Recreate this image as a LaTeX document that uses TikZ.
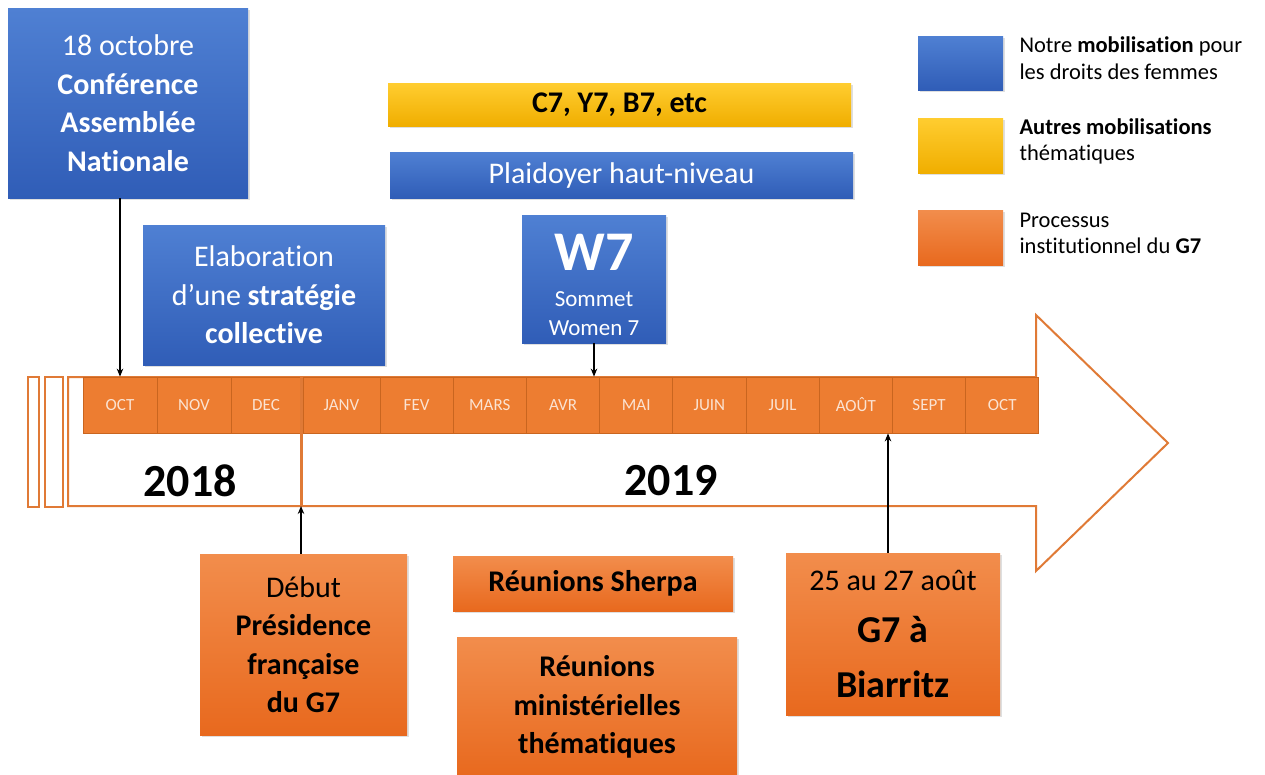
\documentclass[tikz,border=0pt]{standalone}
\usepackage{fontspec}
\setmainfont{Carlito}[RawFeature={-liga}]
\usetikzlibrary{arrows.meta,shadows}
\definecolor{bluetop}{HTML}{4F80D3}
\definecolor{bluebot}{HTML}{305DB7}
\definecolor{ortop}{HTML}{F28D4C}
\definecolor{orbot}{HTML}{E8691E}
\definecolor{yeltop}{HTML}{FFCD30}
\definecolor{yelbot}{HTML}{F0AE00}
\definecolor{orline}{HTML}{E07A36}
\definecolor{monthfill}{HTML}{ED7D31}
\definecolor{monthline}{HTML}{C9651F}
\definecolor{monthtext}{HTML}{FBE3D2}
\begin{document}
\begin{tikzpicture}[x=1pt,y=-1pt,
 box/.style={rectangle, inner sep=0pt, align=center, drop shadow={shadow xshift=1.5pt, shadow yshift=-2pt, opacity=0.25}},
 bluebox/.style={box, top color=bluetop, bottom color=bluebot, text=white},
 orbox/.style={box, top color=ortop, bottom color=orbot, text=black},
 yelbox/.style={box, top color=yeltop, bottom color=yelbot, text=black},
 month/.style={rectangle, draw=monthline, line width=0.8pt, fill=monthfill, text=monthtext, minimum height=56, inner sep=0pt, font=\fontsize{17}{20}\selectfont},
 txt/.style={font=\fontsize{30}{38.5}\selectfont},
 legtxt/.style={anchor=west, align=left, font=\fontsize{22.5}{26.5}\selectfont},
 conn/.style={-{Stealth[length=8pt,width=6.5pt]}, line width=1.2pt, black},
 outline/.style={draw=orline, line width=2pt},
]
\fill[white] (0,0) rectangle (1265,774);
\useasboundingbox (0,0) rectangle (1265,774);
\clip (0,0) rectangle (1265,774);

% timeline arrow outline
\draw[outline] (28,377) rectangle (39,507);
\draw[outline] (45,377) rectangle (63,507);
\draw[outline, line join=miter] (68,377) -- (1036,377) -- (1036,315) -- (1168,443) -- (1036,571) -- (1036,506) -- (68,506) -- cycle;

% months
\node[month, minimum width=74] (m1) at (120,405) {OCT};
\node[month, minimum width=74] (m2) at (194,405) {NOV};
\node[month, minimum width=70] (m3) at (266,405) {DEC};
\node[month, minimum width=77] (m4) at (341.5,405) {JANV};
\node[month, minimum width=73.2] (m5) at (416.6,405) {FEV};
\node[month, minimum width=73.2] (m6) at (489.8,405) {MARS};
\node[month, minimum width=73.2] (m7) at (563.0,405) {AVR};
\node[month, minimum width=73.2] (m8) at (636.2,405) {MAI};
\node[month, minimum width=73.2] (m9) at (709.4,405) {JUIN};
\node[month, minimum width=73.2] (m10) at (782.6,405) {JUIL};
\node[month, minimum width=73.2] (m11) at (855.8,405) {AOÛT};
\node[month, minimum width=73.2] (m12) at (929.0,405) {SEPT};
\node[month, minimum width=73.2] (m13) at (1002.2,405) {OCT};

% year separator
\coordinate (sept) at (301,377);
\coordinate (sepb) at (301,506);
\draw[orline, line width=3pt] (sept) -- (sepb);

\node[font=\fontsize{46}{50}\selectfont\bfseries] (y18) at (190,481) {2018};
\node[font=\fontsize{46}{50}\selectfont\bfseries] (y19) at (671,481) {2019};

% blue boxes
\node[bluebox, minimum width=240, minimum height=190, txt] (conf) at (128,103) {18 octobre\\\textbf{Conférence}\\\textbf{Assemblée}\\\textbf{Nationale}};
\node[bluebox, minimum width=242, minimum height=140, txt] (elab) at (264,295) {Elaboration\\d’une \textbf{stratégie}\\\textbf{collective}};
\node[yelbox, minimum width=463, minimum height=43, txt] (c7) at (619.5,104.5) {\textbf{C7, Y7, B7, etc}};
\node[bluebox, minimum width=463, minimum height=46, txt] (plaid) at (621.5,175) {Plaidoyer haut-niveau};
\node[bluebox, minimum width=144, minimum height=128] (w7) at (594,279) {};
\node[text=white, font=\fontsize{56}{60}\selectfont\bfseries, inner sep=0pt] (w7t) at (594,252.5) {W7};
\node[text=white, font=\fontsize{23}{29}\selectfont, align=center, inner sep=0pt] (w7s) at (594,314) {Sommet\\Women 7};

% legend
\node[bluebox, minimum width=85, minimum height=54] (l1) at (960.5,63) {};
\node[yelbox, minimum width=85, minimum height=55] (l2) at (960.5,145.5) {};
\node[orbox, minimum width=85, minimum height=55] (l3) at (960.5,237.5) {};
\node[legtxt] (l1t) at (1016,58) {Notre \textbf{mobilisation} pour\\les droits des femmes};
\node[legtxt] (l2t) at (1016,141.5) {\textbf{Autres mobilisations}\\thématiques};
\node[legtxt] (l3t) at (1016,233.5) {Processus\\institutionnel du \textbf{G7}};

% orange boxes
\node[orbox, minimum width=207, minimum height=181, txt] (debut) at (303.5,644.5) {Début\\\textbf{Présidence}\\\textbf{française}\\\textbf{du G7}};
\node[orbox, minimum width=280, minimum height=55, txt] (sherpa) at (593,583.5) {\textbf{Réunions Sherpa}};
\node[orbox, minimum width=280, minimum height=140, txt] (minis) at (597,707) {\textbf{Réunions}\\\textbf{ministérielles}\\\textbf{thématiques}};
\node[orbox, minimum width=214, minimum height=162] (g7) at (893,634) {};
\node[font=\fontsize{30}{36}\selectfont, inner sep=0pt] (g7a) at (893,580) {25 au 27 août};
\node[font=\fontsize{38}{44}\selectfont\bfseries, inner sep=0pt] (g7b) at (893,630) {G7 à};
\node[font=\fontsize{38}{44}\selectfont\bfseries, inner sep=0pt] (g7c) at (893,684) {Biarritz};

% connectors
\draw[conn] (conf.south -| m1.north) -- (m1.north);
\draw[conn] (w7.south) -- (w7.south |- m7.north);
\draw[conn] (debut.north -| sepb) -- (sepb);
\draw[conn] ([xshift=-5pt]g7.north) -- ([xshift=-5pt]g7.north |- m11.south);
\end{tikzpicture}
\end{document}
